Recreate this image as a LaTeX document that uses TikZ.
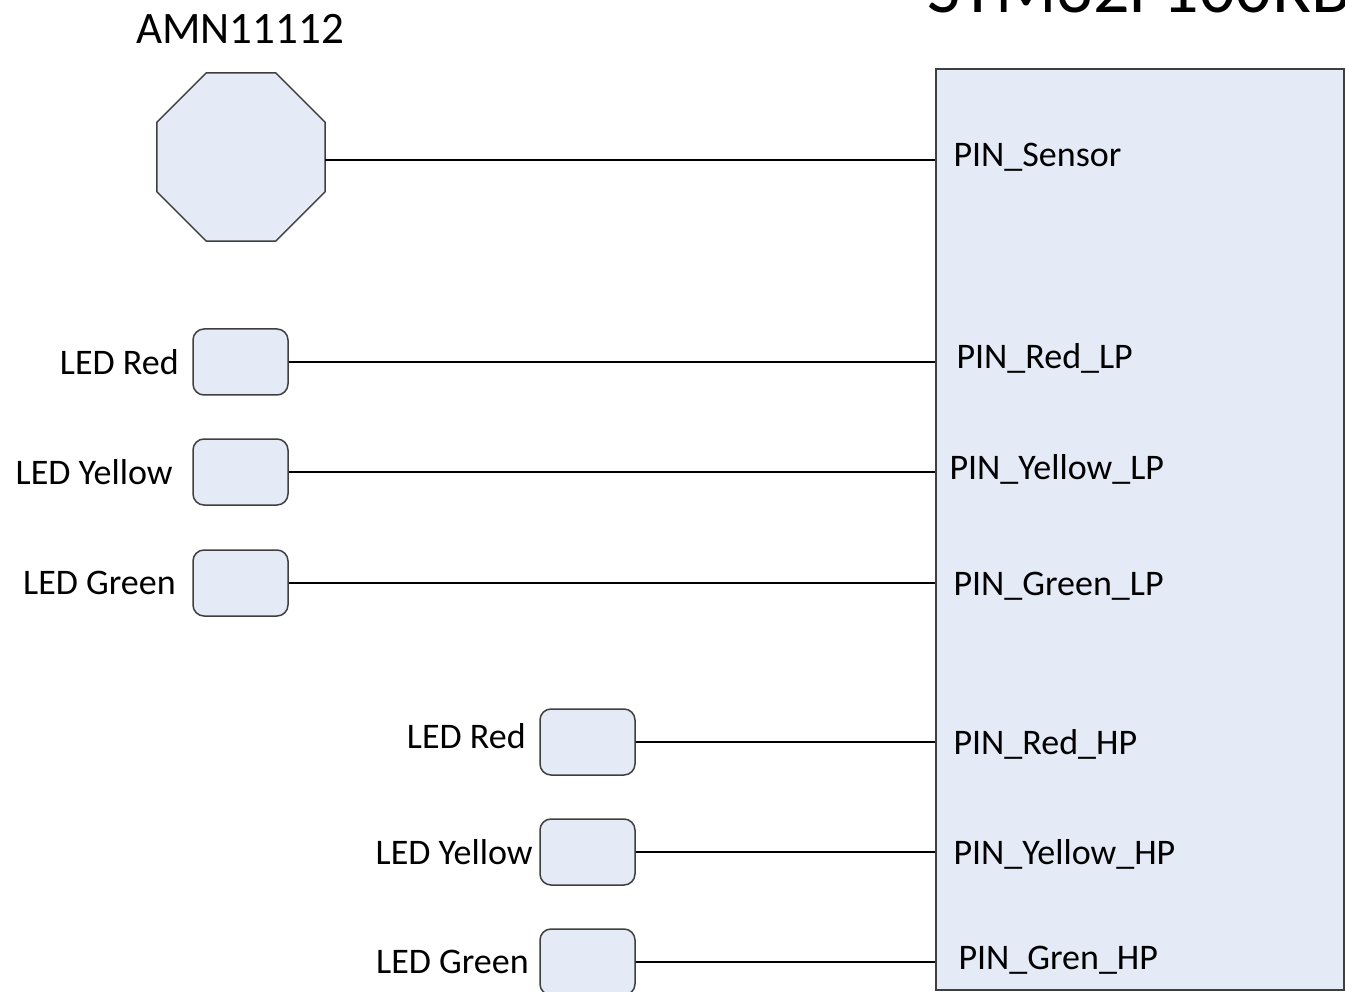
\documentclass[tikz,border=0pt]{standalone}
\usepackage{fontspec}
\setmainfont{Carlito}
\usetikzlibrary{shapes.geometric, positioning}
\definecolor{boxfill}{HTML}{E4EBF6}
\definecolor{boxline}{HTML}{3F3F3F}

\begin{document}
\begin{tikzpicture}[
		x=1pt, y=-1pt,
		mcu/.style={
			draw=boxline, line width=1.5pt, fill=boxfill,
			minimum width=408pt, minimum height=921pt, inner sep=0pt
		},
		led/.style={
			draw=boxline, line width=1.5pt, fill=boxfill, rounded corners=11pt,
			minimum width=95pt, minimum height=66pt, inner sep=0pt
		},
		sensor/.style={
			regular polygon, regular polygon sides=8,
			draw=boxline, line width=1.5pt, fill=boxfill,
			minimum size=182pt, inner sep=0pt, outer sep=0pt
		},
		pinlabel/.style={anchor=base west, font=\fontsize{36}{43}\selectfont},
		ledlabel/.style={font=\fontsize{36}{43}\selectfont},
		wire/.style={line width=1.5pt, black}
		]
		
		\useasboundingbox (0,0) rectangle (1345,992);
		
		% Microcontroller and its (cut off) title
		\node[mcu] (mcu) at (1140,529.5) {};
		\node[anchor=base west, font=\fontsize{72}{86}\selectfont] (title) at (924,13) {STM32F100RB};
		
		% Sensor
		\node[sensor] (amn) at (241,157) {};
		\node[font=\fontsize{45}{54}\selectfont] (amnlabel) at (240,29) {AMN11112};
		
		% LEDs on the low power pins
		\node[led] (redlp)    at (240.5,362) {};
		\node[led] (yellowlp) at (240.5,472) {};
		\node[led] (greenlp)  at (240.5,583) {};
		
		% LEDs on the high power pins
		\node[led] (redhp)    at (587.5,742) {};
		\node[led] (yellowhp) at (587.5,852) {};
		\node[led] (greenhp)  at (587.5,962) {};
		
		% LED labels
		\node[ledlabel, left=10pt of redlp]    (redlplabel)    {LED Red};
		\node[ledlabel, left=16pt of yellowlp] (yellowlplabel) {LED Yellow};
		\node[ledlabel, left=13pt of greenlp]  (greenlplabel)  {LED Green};
		\node[ledlabel, left=10pt of redhp, yshift=6pt] (redhplabel) {LED Red};
		\node[ledlabel, left=3pt of yellowhp]  (yellowhplabel) {LED Yellow};
		\node[ledlabel, left=7pt of greenhp]   (greenhplabel)  {LED Green};
		
		% Pin names
		\node[pinlabel] (pinsensor) at (950,167) {PIN\_Sensor};
		\node[pinlabel] (pinredlp)  at (953,369) {PIN\_Red\_LP};
		\node[pinlabel] (pinyellowlp) at (946,479) {PIN\_Yellow\_LP};
		\node[pinlabel] (pingreenlp)  at (950,595) {PIN\_Green\_LP};
		\node[pinlabel] (pinredhp)    at (950,754) {PIN\_Red\_HP};
		\node[pinlabel] (pinyellowhp) at (950,864) {PIN\_Yellow\_HP};
		\node[pinlabel] (pingrenhp)   at (955,969) {PIN\_Gren\_HP};
		
		% --- Wires ---
		\draw[wire] (amn.east |- 0,160) -- (mcu.west |- 0,160);
		\draw[wire] (redlp.east)    -- (redlp.east -| mcu.west);
		\draw[wire] (yellowlp.east) -- (yellowlp.east -| mcu.west);
		\draw[wire] (greenlp.east)  -- (greenlp.east -| mcu.west);
		\draw[wire] (redhp.east)    -- (redhp.east -| mcu.west);
		\draw[wire] (yellowhp.east) -- (yellowhp.east -| mcu.west);
		\draw[wire] (greenhp.east)  -- (greenhp.east -| mcu.west);
		
	\end{tikzpicture}
\end{document}
